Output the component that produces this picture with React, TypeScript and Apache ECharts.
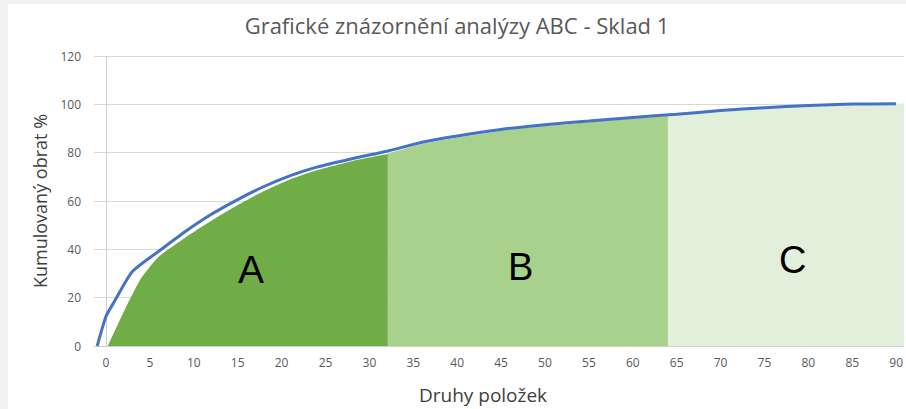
import React, { useEffect, useRef } from "react";
import * as echarts from "echarts";

// Cumulative turnover curve (blue line)
const lineX = [-1, 0, 1, 3, 6, 9, 12, 15, 18, 21, 24, 28, 32, 36, 40, 45, 50, 55, 60, 65, 70, 75, 80, 85, 90];
const lineY = [0, 12.3, 18.7, 30.8, 39.2, 47.3, 54.5, 60.6, 66.0, 70.5, 74.0, 77.5, 80.6, 84.3, 86.9, 89.6, 91.6, 93.1, 94.6, 95.9, 97.4, 98.6, 99.5, 100.1, 100.2];

// Zone A area
const areaAX = [0.2, 2, 4, 6, 9, 12, 15, 18, 21, 24, 28, 32.1];
const areaAY = [0, 14, 28, 36.9, 44.8, 51.8, 58.3, 64.1, 69, 72.7, 76.5, 79.4];
// Zone B area
const areaBX = [32.1, 36, 40, 45, 50, 55, 60, 64];
const areaBY = [79.6, 83.6, 86.3, 89.0, 91.0, 92.6, 94.1, 95.2];
// Zone C area
const areaCX = [64, 70, 75, 80, 85, 90.9];
const areaCY = [95.3, 97.0, 98.3, 99.2, 99.8, 100.3];

const xTicks = [0, 5, 10, 15, 20, 25, 30, 35, 40, 45, 50, 55, 60, 65, 70, 75, 80, 85, 90];
const zoneLabels = ["A", "B", "C"];

const pairs = (xs: number[], ys: number[]) => xs.map((x, i) => [x, ys[i]]);

export default function App() {
  const ref = useRef<HTMLDivElement>(null);
  useEffect(() => {
    document.body.style.margin = "0";
    const chart = echarts.init(ref.current!, null, { renderer: "svg" });
    const font = "'Open Sans', 'Liberation Sans', sans-serif";
    const areaSeries = (xs: number[], ys: number[], color: string) => ({
      type: "line",
      data: pairs(xs, ys),
      showSymbol: false,
      smooth: 0.2,
      lineStyle: { width: 0 },
      areaStyle: { color, opacity: 1 },
      z: 1,
    });
    chart.setOption({
      animation: false,
      backgroundColor: "#ffffff",
      title: {
        text: "Grafické znázornění analýzy ABC - Sklad 1",
        left: "center",
        top: 5,
        textStyle: { fontFamily: font, fontSize: 22, fontWeight: "normal", color: "#595959" },
      },
      grid: { left: 86, right: 0, top: 52, bottom: 58 },
      xAxis: {
        type: "value",
        min: -1.37,
        max: 90.9,
        name: "Druhy položek",
        nameLocation: "middle",
        nameGap: 39,
        nameTextStyle: { fontFamily: font, fontSize: 19, color: "#404040", padding: [0, 32, 0, 0] },
        axisLine: { show: true, lineStyle: { color: "#d0d0d0", width: 1 } },
        axisTick: { show: false },
        splitLine: { show: false },
        axisLabel: {
          customValues: xTicks,
          fontFamily: font,
          fontSize: 12,
          color: "#595959",
          margin: 10,
        },
      },
      yAxis: {
        type: "value",
        min: 0,
        max: 120,
        interval: 20,
        name: "Kumulovaný obrat %",
        nameLocation: "middle",
        nameGap: 45,
        nameTextStyle: { fontFamily: font, fontSize: 18, color: "#404040" },
        axisLine: { show: true, lineStyle: { color: "#d0d0d0", width: 1 } },
        axisTick: { show: false },
        splitLine: { show: true, lineStyle: { color: "#d9d9d9", width: 1 } },
        axisLabel: { fontFamily: font, fontSize: 12, color: "#595959", margin: 13 },
      },
      series: [
        areaSeries(areaCX, areaCY, "#E2EFDA"),
        areaSeries(areaBX, areaBY, "#A9D18E"),
        areaSeries(areaAX, areaAY, "#70AD47"),
        {
          type: "line",
          data: pairs(lineX, lineY),
          showSymbol: false,
          smooth: 0.2,
          lineStyle: { width: 3, color: "#4472C4" },
          z: 3,
        },
      ],
      graphic: [
        { type: "text", left: 230, top: 246, z: 100, style: { text: zoneLabels[0], fontSize: 39, fontFamily: "Liberation Sans, Arial, sans-serif", fill: "#000000" } },
        { type: "text", left: 500, top: 244, z: 100, style: { text: zoneLabels[1], fontSize: 38, fontFamily: "Liberation Sans, Arial, sans-serif", fill: "#000000" } },
        { type: "text", left: 771, top: 237, z: 100, style: { text: zoneLabels[2], fontSize: 38, fontFamily: "Liberation Sans, Arial, sans-serif", fill: "#000000" } },
      ],
    });
    return () => chart.dispose();
  }, []);
  return (
    <div style={{ width: 906, height: 409, background: "#f2f2f2", position: "relative" }}>
      <div ref={ref} style={{ position: "absolute", left: 8, top: 4, width: 898, height: 405 }} />
    </div>
  );
}
